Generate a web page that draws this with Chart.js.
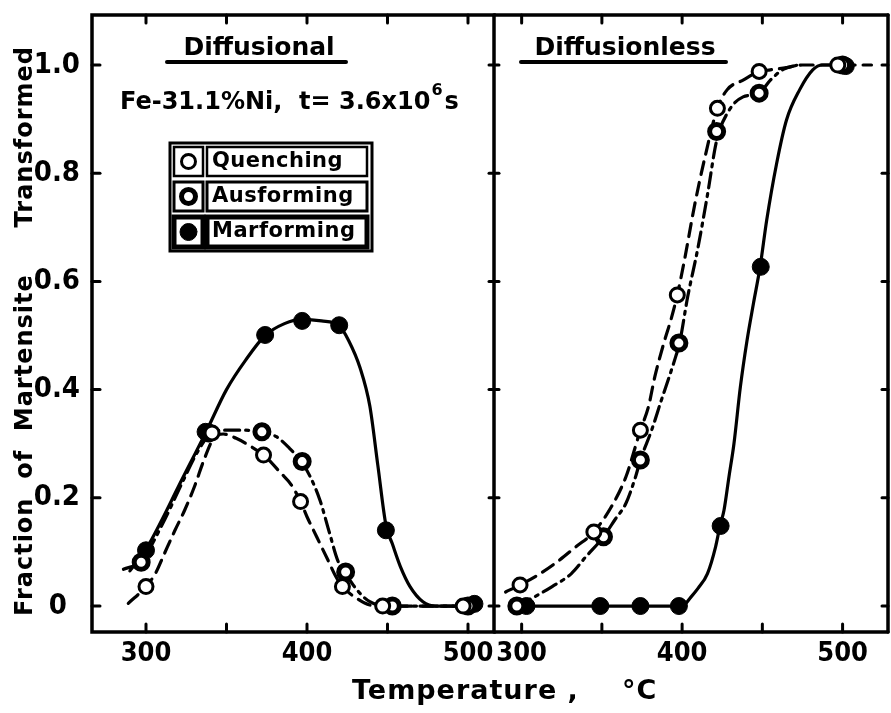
<!DOCTYPE html>
<html>
<head>
<meta charset="utf-8">
<script src="https://cdn.jsdelivr.net/npm/chart.js@4.4.1/dist/chart.umd.min.js"></script>
<style>
  html, body { margin: 0; padding: 0; background: #fff; overflow: hidden; }
  #wrap { position: relative; width: 891px; height: 713px; overflow: hidden; background: #fff; }
  #wrap canvas { position: absolute; left: 0; top: 0; }
</style>
</head>
<body>
<div id="wrap">
  <canvas id="left" width="900" height="713"></canvas>
  <canvas id="right" width="900" height="713"></canvas>
</div>
<script>
// ticks
const xTicks = [300, 350, 400, 450, 500];
const xTickLabels = ['300', '', '400', '', '500'];
const yTicks = [0, 0.2, 0.4, 0.6, 0.8, 1.0];
const yTickLabels = ['0', '0.2', '0.4', '0.6', '0.8', '1.0'];
const legendLabels = ['Quenching', 'Ausforming', 'Marforming'];

// Diffusional - measured points
const difQuenchT = [300, 341, 373, 396, 422, 447, 497];
const difQuenchF = [0.036, 0.32, 0.279, 0.193, 0.036, 0, 0];
const difAusT = [297, 339, 372, 397, 424, 453, 500];
const difAusF = [0.081, 0.32, 0.322, 0.267, 0.063, 0, 0];
const difMarT = [300, 337, 374, 397, 420, 449, 504];
const difMarF = [0.103, 0.322, 0.501, 0.527, 0.519, 0.14, 0.004];

// Diffusional - drawn curves
const difQuenchCurveT = [289, 300, 306, 311, 318, 324, 330, 336, 342, 348, 356, 364, 373, 384, 390, 396, 400, 406, 413, 418, 422, 431, 439, 447, 500];
const difQuenchCurveF = [0.005, 0.036, 0.061, 0.094, 0.14, 0.177, 0.22, 0.27, 0.31, 0.318, 0.31, 0.297, 0.279, 0.245, 0.225, 0.193, 0.165, 0.128, 0.085, 0.054, 0.036, 0.014, 0.002, 0, 0];
const difAusCurveT = [286, 297, 310, 322, 332, 340, 350, 360, 372, 381, 389, 397, 402, 408, 414, 419, 424, 431, 439, 450, 500];
const difAusCurveF = [0.068, 0.083, 0.15, 0.225, 0.285, 0.318, 0.325, 0.325, 0.322, 0.313, 0.292, 0.265, 0.239, 0.196, 0.135, 0.085, 0.06, 0.03, 0.008, 0, 0];
const difMarCurveT = [290, 300, 310, 320, 337, 350, 362, 374, 386, 397, 409, 420, 426, 433, 439, 444, 449, 453, 458, 464, 472, 480, 505];
const difMarCurveF = [0.065, 0.105, 0.16, 0.22, 0.32, 0.4, 0.455, 0.5, 0.522, 0.53, 0.527, 0.518, 0.49, 0.44, 0.37, 0.26, 0.15, 0.115, 0.073, 0.036, 0.008, 0, 0];

// Diffusionless - measured points
const dlsQuenchT = [299, 345, 374, 397, 422, 448, 497];
const dlsQuenchF = [0.039, 0.137, 0.325, 0.575, 0.92, 0.988, 1.0];
const dlsAusT = [297, 351, 374, 398, 421.5, 448, 500];
const dlsAusF = [0, 0.128, 0.27, 0.486, 0.877, 0.948, 1.0];
const dlsMarT = [303, 349, 374, 398, 424, 449, 502];
const dlsMarF = [0, 0, 0, 0, 0.148, 0.627, 0.998];

// Diffusionless - drawn curves
const dlsQuenchCurveT = [290, 299, 310, 321, 334, 345, 356, 365, 374, 379, 383, 389, 393, 397, 401.5, 407.6, 413.8, 422, 428, 438, 448, 455, 465, 475, 518];
const dlsQuenchCurveF = [0.026, 0.039, 0.057, 0.079, 0.11, 0.137, 0.184, 0.239, 0.325, 0.368, 0.424, 0.49, 0.529, 0.575, 0.64, 0.738, 0.824, 0.92, 0.954, 0.972, 0.988, 0.991, 0.995, 1.0, 1.0];
const dlsAusCurveT = [297, 308, 319, 331, 340, 351, 358, 365, 371, 374, 381, 387, 392, 396, 398.4, 403.5, 409.6, 415.8, 421.5, 429, 438, 448, 455, 463, 472];
const dlsAusCurveF = [0, 0.017, 0.036, 0.06, 0.091, 0.128, 0.159, 0.19, 0.239, 0.27, 0.325, 0.38, 0.424, 0.461, 0.486, 0.572, 0.658, 0.76, 0.86, 0.915, 0.941, 0.948, 0.972, 0.992, 1.0];
const dlsMarCurveT = [303, 400, 405.6, 410, 415.8, 420.9, 423.6, 426.1, 429.2, 432.3, 436.3, 440.4, 444.5, 448.6, 452.7, 458.9, 465, 473.2, 481.4, 487.5, 503];
const dlsMarCurveF = [0, 0, 0.017, 0.033, 0.06, 0.11, 0.148, 0.177, 0.239, 0.3, 0.405, 0.49, 0.56, 0.627, 0.713, 0.818, 0.898, 0.954, 0.991, 1.0, 1.0];

const TXT = '"DejaVu Sans", sans-serif';
const NUM = '"Liberation Sans Narrow", "DejaVu Sans Condensed", sans-serif';
const DASH_Q = [13, 8];
const DASH_A = [15, 6, 3, 6];

const pts = (t, f) => t.map((x, i) => ({ x: x, y: f[i] }));

function curve(t, f, dash) {
  return {
    data: pts(t, f), showLine: true, borderColor: '#000', borderWidth: 3.2,
    borderDash: dash, borderCapStyle: 'round', pointRadius: 0, pointHoverRadius: 0,
    cubicInterpolationMode: 'monotone', fill: false, order: 2
  };
}

// marker look for each treatment
const markStyle = {
  Q: { pointRadius: 7, pointBorderWidth: 3, pointBackgroundColor: '#fff' },
  A: { pointRadius: 7, pointBorderWidth: 5, pointBackgroundColor: '#fff' },
  M: { pointRadius: 8.5, pointBorderWidth: 1, pointBackgroundColor: '#000' }
};

function marks(t, f, kind) {
  return Object.assign({
    data: pts(t, f), showLine: false, pointStyle: 'circle', pointBorderColor: '#000',
    pointHoverRadius: 0, order: 1
  }, markStyle[kind]);
}

function line(ctx, x1, y1, x2, y2) {
  ctx.beginPath(); ctx.moveTo(x1, y1); ctx.lineTo(x2, y2); ctx.stroke();
}

function drawMarker(ctx, cx, cy, kind) {
  const s = markStyle[kind];
  ctx.beginPath();
  ctx.arc(cx, cy, s.pointRadius, 0, Math.PI * 2);
  ctx.fillStyle = s.pointBackgroundColor;
  ctx.fill();
  ctx.lineWidth = s.pointBorderWidth;
  ctx.strokeStyle = '#000';
  ctx.stroke();
}

const leftDecor = {
  id: 'leftDecor',
  afterDraw(chart) {
    const { ctx, chartArea: a, scales: { x, y } } = chart;
    ctx.save();
    ctx.strokeStyle = '#000';
    ctx.fillStyle = '#000';
    ctx.lineCap = 'round';
    ctx.lineWidth = 3.5;
    ctx.strokeRect(a.left, a.top, a.right - a.left, a.bottom - a.top);
    ctx.lineWidth = 3;
    xTicks.forEach(v => {
      const px = x.getPixelForValue(v);
      line(ctx, px, a.bottom, px, a.bottom - 8);
      line(ctx, px, a.top, px, a.top + 8);
    });
    yTicks.forEach(v => {
      const py = y.getPixelForValue(v);
      line(ctx, a.left, py, a.left + 8, py);
      line(ctx, a.right - 5, py, a.right + 5, py);
    });

    // panel title
    ctx.font = 'bold 25px ' + TXT;
    ctx.textAlign = 'center';
    ctx.textBaseline = 'alphabetic';
    ctx.fillText('Diffusional', 259, 55);
    ctx.lineWidth = 4;
    line(ctx, 167, 62, 346, 62);

    // alloy / time
    ctx.textAlign = 'left';
    ctx.font = 'bold 24px ' + TXT;
    let tx = 120;
    const part1 = 'Fe-31.1%Ni,  t= 3.6x10';
    ctx.fillText(part1, tx, 109);
    tx += ctx.measureText(part1).width;
    ctx.font = 'bold 16px ' + TXT;
    ctx.fillText('6', tx + 1, 95);
    tx += ctx.measureText('6').width + 3;
    ctx.font = 'bold 24px ' + TXT;
    ctx.fillText('s', tx, 109);

    // legend table
    ctx.lineWidth = 3;
    ctx.strokeRect(170, 143, 202, 108);
    const rows = [[146, 31], [181, 31], [216, 32]];
    const kinds = ['Q', 'A', 'M'];
    ctx.lineWidth = 2.5;
    rows.forEach((r, i) => {
      ctx.strokeRect(174, r[0] + 1, 29, r[1] - 2);
      ctx.strokeRect(207, r[0] + 1, 160, r[1] - 2);
      drawMarker(ctx, 188.5, r[0] + r[1] / 2, kinds[i]);
      ctx.fillStyle = '#000';
      ctx.font = 'bold 21px ' + TXT;
      ctx.letterSpacing = '0.5px';
      ctx.textBaseline = 'middle';
      ctx.fillText(legendLabels[i], 212, r[0] + r[1] / 2);
      ctx.letterSpacing = '0px';
    });

    // y axis title
    ctx.save();
    ctx.translate(26, 331);
    ctx.rotate(-Math.PI / 2);
    ctx.textAlign = 'center';
    ctx.textBaseline = 'middle';
    ctx.font = 'bold 24px ' + TXT;
    ctx.letterSpacing = '1px';
    ctx.fillText('Fraction  of  Martensite     Transformed', 0, 0);
    ctx.restore();

    // x axis title
    ctx.textBaseline = 'alphabetic';
    ctx.textAlign = 'left';
    ctx.font = 'bold 27px ' + TXT;
    ctx.letterSpacing = '1px';
    ctx.fillText('Temperature ,', 352, 699);
    ctx.fillText('°C', 622, 699);
    ctx.restore();
  }
};

const rightDecor = {
  id: 'rightDecor',
  afterDraw(chart) {
    const { ctx, chartArea: a, scales: { x, y } } = chart;
    ctx.save();
    ctx.strokeStyle = '#000';
    ctx.fillStyle = '#000';
    ctx.lineCap = 'round';
    ctx.lineWidth = 3.5;
    line(ctx, a.left, a.top, a.right, a.top);
    line(ctx, a.left, a.bottom, a.right, a.bottom);
    line(ctx, a.right, a.top, a.right, a.bottom);
    ctx.lineWidth = 3;
    xTicks.forEach(v => {
      const px = x.getPixelForValue(v);
      line(ctx, px, a.bottom, px, a.bottom - 8);
      line(ctx, px, a.top, px, a.top + 8);
    });
    yTicks.forEach(v => {
      const py = y.getPixelForValue(v);
      line(ctx, a.right, py, a.right - 6, py);
    });
    ctx.font = 'bold 25px ' + TXT;
    ctx.textAlign = 'center';
    ctx.fillText('Diffusionless', 625, 55);
    ctx.lineWidth = 4;
    line(ctx, 521, 62, 726, 62);
    ctx.restore();
  }
};

function xAxis(min, max) {
  return {
    type: 'linear', min: min, max: max,
    grid: { display: false, drawTicks: false },
    border: { display: false },
    afterBuildTicks: s => { s.ticks = xTicks.map(v => ({ value: v })); },
    afterFit: s => { s.height = 81; s.paddingLeft = 0; s.paddingRight = 0; },
    ticks: {
      autoSkip: false, maxRotation: 0, padding: 6, color: '#000',
      font: { family: NUM, size: 27, weight: 'bold' },
      callback: (v, i) => xTickLabels[i]
    }
  };
}

function yAxis(show) {
  return {
    type: 'linear', min: -0.048, max: 1.0924, display: show,
    grid: { display: false, drawTicks: false },
    border: { display: false },
    afterBuildTicks: s => { s.ticks = yTicks.map(v => ({ value: v })); },
    afterFit: s => { s.width = show ? 92 : 0; s.paddingTop = 0; s.paddingBottom = 0; },
    ticks: {
      padding: 12, color: '#000',
      font: { family: NUM, size: 29, weight: 'bold' },
      callback: (v, i) => yTickLabels[i].length < 3 ? yTickLabels[i] + '\u2002' : yTickLabels[i]
    }
  };
}

const baseOpts = {
  responsive: false, animation: false,
  events: [],
  plugins: { legend: { display: false }, tooltip: { enabled: false } }
};

new Chart(document.getElementById('left'), {
  type: 'scatter',
  data: {
    datasets: [
      curve(difQuenchCurveT, difQuenchCurveF, DASH_Q),
      curve(difAusCurveT, difAusCurveF, DASH_A),
      curve(difMarCurveT, difMarCurveF, []),
      marks(difQuenchT, difQuenchF, 'Q'),
      marks(difAusT, difAusF, 'A'),
      marks(difMarT, difMarF, 'M')
    ]
  },
  options: Object.assign({}, baseOpts, {
    layout: { padding: { top: 15, right: 406, left: 0, bottom: 0 } },
    scales: { x: xAxis(266.46, 516.15), y: yAxis(true) }
  }),
  plugins: [leftDecor]
});

new Chart(document.getElementById('right'), {
  type: 'scatter',
  data: {
    datasets: [
      curve(dlsQuenchCurveT, dlsQuenchCurveF, DASH_Q),
      curve(dlsAusCurveT, dlsAusCurveF, DASH_A),
      curve(dlsMarCurveT, dlsMarCurveF, []),
      marks(dlsQuenchT, dlsQuenchF, 'Q'),
      marks(dlsAusT, dlsAusF, 'A'),
      marks(dlsMarT, dlsMarF, 'M')
    ]
  },
  options: Object.assign({}, baseOpts, {
    layout: { padding: { top: 15, right: 7, left: 494, bottom: 0 } },
    scales: { x: xAxis(282.77, 528.3), y: yAxis(false) }
  }),
  plugins: [rightDecor]
});
</script>
</body>
</html>
